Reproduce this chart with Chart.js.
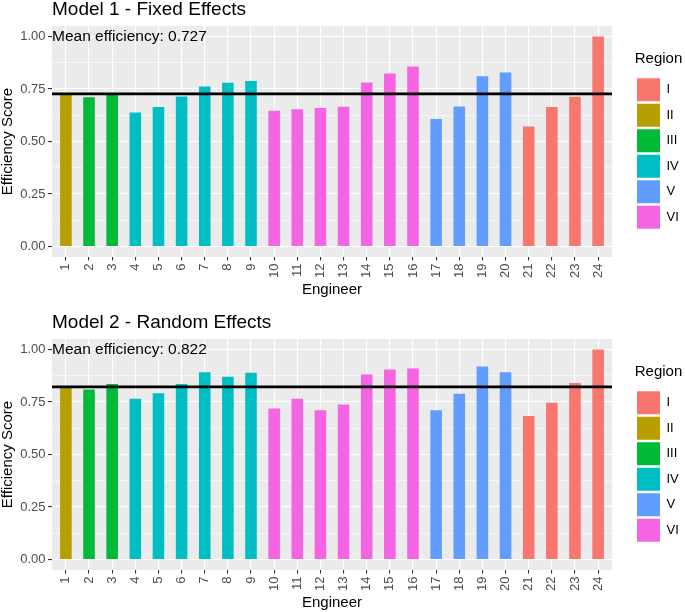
<!DOCTYPE html>
<html>
<head>
<meta charset="utf-8">
<script src="https://cdn.jsdelivr.net/npm/chart.js@4.4.0/dist/chart.umd.min.js"></script>
<style>
  html, body { margin: 0; padding: 0; background: #ffffff; }
  #wrap { position: relative; width: 685px; height: 612px; overflow: hidden; }
  canvas { position: absolute; left: 0; }
</style>
</head>
<body>
<div id="wrap">
  <canvas id="c1" width="685" height="299" style="top:0px"></canvas>
  <canvas id="c2" width="685" height="299" style="top:313px"></canvas>
</div>
<script>
// ---------- data ----------
const engineers = [1,2,3,4,5,6,7,8,9,10,11,12,13,14,15,16,17,18,19,20,21,22,23,24];
const engineerRegion = ['II','III','III','IV','IV','IV','IV','IV','IV','VI','VI','VI','VI','VI','VI','VI','V','V','V','V','I','I','I','I'];
const regions = ['I','II','III','IV','V','VI'];
const regionColors = ['#F8766D','#B79F00','#00BA38','#00BFC4','#619CFF','#F564E3'];

const fixedEffects  = [0.728,0.711,0.727,0.638,0.664,0.714,0.762,0.780,0.788,0.646,0.654,0.659,0.665,0.781,0.824,0.857,0.607,0.667,0.811,0.829,0.571,0.664,0.713,1.000];
const randomEffects = [0.820,0.810,0.836,0.765,0.792,0.836,0.892,0.870,0.889,0.719,0.765,0.711,0.738,0.881,0.905,0.910,0.711,0.789,0.919,0.892,0.683,0.746,0.841,1.000];
const meanFixed = 0.727;
const meanRandom = 0.822;

const panelTitles = ['Model 1 - Fixed Effects', 'Model 2 - Random Effects'];
const yMajorTicks = [0, 0.25, 0.5, 0.75, 1];
const yTickLabels = ['0.00', '0.25', '0.50', '0.75', '1.00'];
const yMinorTicks = [0.125, 0.375, 0.625, 0.875];
const xTickLabels = engineers.map(String);
const legendTitle = 'Region';
const xTitle = 'Engineer';
const yTitle = 'Efficiency Score';
const meanLabelPrefix = 'Mean efficiency: ';

// axis limits (ggplot default expansion)
const xMin = 0.4, xMax = 24.6;
const yMin = -0.05, yMax = 1.05;

// ---------- helpers ----------
const FONT = '"Liberation Sans", Arial, Helvetica, sans-serif';
Chart.defaults.font.family = FONT;
Chart.defaults.animation = false;

const barColors = engineerRegion.map(r => regionColors[regions.indexOf(r)]);

const panelPlugin = {
  id: 'panelPlugin',
  afterLayout(chart) {
    const ca = chart.chartArea;
    if (chart.titleBlock) {
      const w = chart.titleBlock.right - chart.titleBlock.left;
      chart.titleBlock.left = ca.left;
      chart.titleBlock.right = ca.left + w;
    }
    const lg = chart.legend;
    if (lg) {
      const w = lg.width;
      lg.left = ca.right + 22.5;
      lg.right = lg.left + w;
    }
  },
  beforeDraw(chart) {
    const {ctx, chartArea: ca} = chart;
    ctx.save();
    ctx.fillStyle = '#EBEBEB';
    ctx.fillRect(ca.left, ca.top, ca.right - ca.left, ca.bottom - ca.top);
    ctx.restore();
  },
  afterDatasetsDraw(chart, args, opts) {
    if (!opts || !opts.text) return;
    const {ctx, scales} = chart;
    ctx.save();
    ctx.font = '15.5px ' + FONT;
    ctx.fillStyle = '#000000';
    ctx.textAlign = 'left';
    ctx.textBaseline = 'middle';
    ctx.fillText(opts.text, scales.x.getPixelForValue(xMin), scales.y.getPixelForValue(opts.y));
    ctx.restore();
  }
};

function makeChart(canvasId, title, values, meanValue) {
  const barData = engineers.map((e, i) => ({x: e, y: values[i]}));
  const meanData = [{x: xMin, y: meanValue}, {x: xMax, y: meanValue}];
  return new Chart(document.getElementById(canvasId), {
    type: 'bar',
    data: {
      datasets: [
        {
          type: 'line',
          data: meanData,
          borderColor: '#000000',
          borderWidth: 2.6,
          pointRadius: 0,
          fill: false,
          order: 0
        },
        {
          type: 'bar',
          data: barData,
          backgroundColor: barColors,
          borderWidth: 0,
          barPercentage: 0.5,
          categoryPercentage: 1,
          order: 1
        }
      ]
    },
    options: {
      responsive: false,
      maintainAspectRatio: false,
      devicePixelRatio: 1,
      layout: { padding: { left: 0, right: 25, top: 0, bottom: 0 } },
      plugins: {
        tooltip: { enabled: false },
        title: {
          display: true,
          text: title,
          align: 'start',
          color: '#000000',
          font: { size: 19, weight: 'normal', lineHeight: 1 },
          padding: { top: 0, bottom: 7 }
        },
        legend: {
          display: true,
          position: 'right',
          align: 'center',
          fullSize: false,
          maxWidth: 48,
          title: {
            display: true,
            text: legendTitle,
            color: '#000000',
            font: { size: 15, lineHeight: 1.2 },
            padding: { top: 0, bottom: 6 }
          },
          labels: {
            boxWidth: 23,
            boxHeight: 23,
            padding: 2.5,
            color: '#1A1A1A',
            font: { size: 13 },
            generateLabels: () => regions.map((r, i) => ({
              text: r,
              fillStyle: regionColors[i],
              strokeStyle: regionColors[i],
              lineWidth: 0,
              hidden: false,
              index: i
            }))
          },
          onClick: () => {}
        },
        panelPlugin: { text: meanLabelPrefix + meanValue.toFixed(3), y: 1 }
      },
      scales: {
        x: {
          type: 'linear',
          min: xMin,
          max: xMax,
          offset: false,
          afterBuildTicks: (scale) => { scale.ticks = engineers.map(v => ({value: v})); },
          afterFit: (scale) => { scale.height = 42; },
          ticks: {
            autoSkip: false,
            includeBounds: false,
            maxRotation: 90,
            minRotation: 90,
            padding: 3,
            color: '#4D4D4D',
            font: { size: 13 },
            callback: (value) => {
              const i = engineers.indexOf(value);
              return i >= 0 ? xTickLabels[i] : '';
            }
          },
          grid: {
            offset: false,
            color: '#FFFFFF',
            lineWidth: 1.1,
            tickLength: 3.5,
            tickColor: '#333333',
            tickWidth: 1.1
          },
          border: { display: false },
          title: {
            display: true,
            text: xTitle,
            color: '#000000',
            font: { size: 15, lineHeight: 1 },
            padding: { top: 0, bottom: 2 }
          }
        },
        y: {
          type: 'linear',
          min: yMin,
          max: yMax,
          afterBuildTicks: (scale) => {
            scale.ticks = yMajorTicks.concat(yMinorTicks).sort((a, b) => a - b).map(v => ({value: v}));
          },
          afterFit: (scale) => { scale.width = 52; },
          ticks: {
            autoSkip: false,
            includeBounds: false,
            padding: 2.5,
            color: '#4D4D4D',
            font: { size: 13 },
            callback: (value) => {
              const i = yMajorTicks.indexOf(value);
              return i >= 0 ? yTickLabels[i] : '';
            }
          },
          grid: {
            color: '#FFFFFF',
            lineWidth: (c) => (yMajorTicks.indexOf(c.tick ? c.tick.value : -1) >= 0 ? 1.1 : 0.55),
            tickLength: 4,
            tickColor: (c) => (yMajorTicks.indexOf(c.tick ? c.tick.value : -1) >= 0 ? '#333333' : 'rgba(0,0,0,0)'),
            tickWidth: 1.1
          },
          border: { display: false },
          title: {
            display: true,
            text: yTitle,
            color: '#000000',
            font: { size: 15, lineHeight: 1 },
            padding: { top: 0, bottom: 0 }
          }
        }
      }
    },
    plugins: [panelPlugin]
  });
}

makeChart('c1', panelTitles[0], fixedEffects, meanFixed);
makeChart('c2', panelTitles[1], randomEffects, meanRandom);
</script>
</body>
</html>
